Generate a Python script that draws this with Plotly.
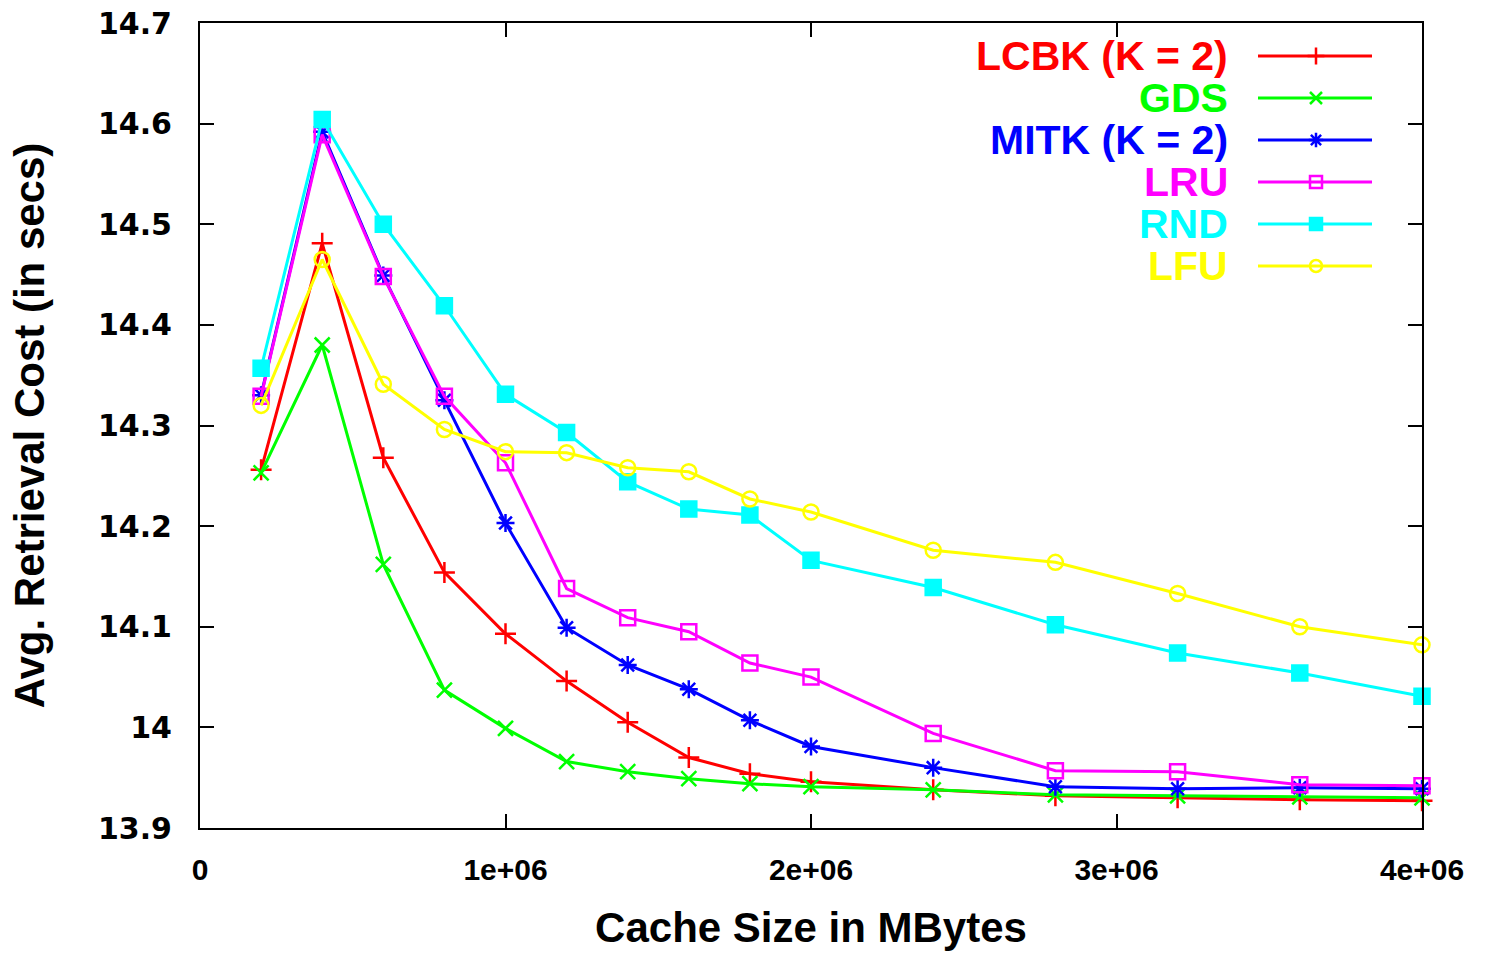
import plotly.graph_objects as go

cache_size = [200000, 400000, 600000, 800000, 1000000, 1200000, 1400000, 1600000,
              1800000, 2000000, 2400000, 2800000, 3200000, 3600000, 4000000]

lcbk = [14.256, 14.481, 14.268, 14.154, 14.093, 14.046, 14.005, 13.970,
        13.954, 13.946, 13.938, 13.932, 13.930, 13.928, 13.927]
gds = [14.253, 14.380, 14.162, 14.037, 13.999, 13.966, 13.956, 13.949,
       13.944, 13.941, 13.938, 13.933, 13.932, 13.931, 13.930]
mitk = [14.330, 14.592, 14.449, 14.325, 14.203, 14.099, 14.062, 14.038,
        14.007, 13.981, 13.960, 13.941, 13.939, 13.940, 13.939]
lru = [14.329, 14.589, 14.448, 14.329, 14.263, 14.138, 14.109, 14.095,
       14.064, 14.050, 13.994, 13.957, 13.956, 13.943, 13.942]
rnd = [14.357, 14.604, 14.500, 14.419, 14.331, 14.293, 14.244, 14.217,
       14.211, 14.166, 14.139, 14.102, 14.074, 14.054, 14.031]
lfu = [14.320, 14.465, 14.341, 14.296, 14.274, 14.273, 14.258, 14.254,
       14.227, 14.214, 14.176, 14.164, 14.133, 14.100, 14.082]

series_names = ["LCBK (K = 2)", "GDS", "MITK (K = 2)", "LRU", "RND", "LFU"]
series_values = [lcbk, gds, mitk, lru, rnd, lfu]
series_colors = ["#ff0000", "#00ff00", "#0000ff", "#ff00ff", "#00ffff", "#ffff00"]
series_symbols = ["cross-thin-open", "x-thin-open", "asterisk-open",
                  "square-open", "square", "circle-open"]

x_tick_vals = [0, 1000000, 2000000, 3000000, 4000000]
x_tick_text = ["0", "1e+06", "2e+06", "3e+06", "4e+06"]
y_tick_vals = [13.9, 14.0, 14.1, 14.2, 14.3, 14.4, 14.5, 14.6, 14.7]
y_tick_text = ["13.9", "14", "14.1", "14.2", "14.3", "14.4", "14.5", "14.6", "14.7"]

# the page body margin is removed below, so the figure fills the window
W, H = 1485, 956
PLOT_X0, PLOT_X1, PLOT_Y0, PLOT_Y1 = 200, 1422, 23, 828  # target pixels
L, T = PLOT_X0, PLOT_Y0
R, B = W - PLOT_X1, H - PLOT_Y1
PW, PH = PLOT_X1 - PLOT_X0, PLOT_Y1 - PLOT_Y0


def px(xs):
    return (xs - PLOT_X0) / PW


def py(ys):
    return (PLOT_Y1 - ys) / PH


fig = go.Figure()

for name, vals, col, sym in zip(series_names, series_values, series_colors, series_symbols):
    fig.add_trace(go.Scatter(
        x=cache_size, y=vals, mode="lines+markers", name=name,
        line=dict(color=col, width=3),
        marker=dict(symbol=sym, size=15, color=col, line=dict(color=col, width=2.5)),
        cliponaxis=False, showlegend=False,
    ))

# custom gnuplot-style key (text on the left, sample on the right)
legend_rows_y = [56, 98, 140, 182, 224, 266]
for name, col, sym, ry in zip(series_names, series_colors, series_symbols, legend_rows_y):
    fig.add_trace(go.Scatter(
        x=[px(1258), px(1372)], y=[py(ry), py(ry)], mode="lines",
        line=dict(color=col, width=3), xaxis="x2", yaxis="y2",
        showlegend=False, hoverinfo="skip", cliponaxis=False,
    ))
    fig.add_trace(go.Scatter(
        x=[px(1316)], y=[py(ry)], mode="markers",
        marker=dict(symbol=sym, size=12, color=col, line=dict(color=col, width=2.5)),
        xaxis="x2", yaxis="y2", showlegend=False, hoverinfo="skip", cliponaxis=False,
    ))
    fig.add_annotation(
        x=px(1230), y=py(ry), xref="paper", yref="paper", text=name,
        showarrow=False, xanchor="right", yanchor="middle",
        font=dict(family="Liberation Sans, Arial, sans-serif", size=41, color=col, weight="bold"),
    )

axis_common = dict(
    showline=True, linecolor="black", linewidth=2, mirror="ticks",
    ticks="inside", ticklen=14, tickwidth=2, tickcolor="black",
    showgrid=False, zeroline=False, automargin=False, ticklabeloverflow="allow",
)

fig.update_layout(
    template="none",
    width=W, height=H,
    margin=dict(l=L, r=R, t=T, b=B, autoexpand=False),
    paper_bgcolor="white", plot_bgcolor="white",
    showlegend=False,
    xaxis=dict(
        range=[0, 4000000], tickvals=x_tick_vals, ticktext=x_tick_text,
        tickfont=dict(family="Liberation Sans Narrow, Liberation Sans, Arial", size=30,
                      color="black", weight="bold"),
        ticklabelstandoff=14,
        title=dict(text="Cache Size in MBytes", standoff=28,
                   font=dict(family="Liberation Sans, Arial", size=42, color="black",
                             weight="bold")),
        **axis_common,
    ),
    yaxis=dict(
        range=[13.9, 14.7], tickvals=y_tick_vals, ticktext=y_tick_text,
        tickfont=dict(family="DejaVu Sans, Liberation Sans, Arial", size=30,
                      color="black", weight="bold"),
        ticklabelstandoff=20,
        title=dict(text="Avg. Retrieval Cost (in secs)", standoff=40,
                   font=dict(family="Liberation Sans, Arial", size=42, color="black",
                             weight="bold")),
        **axis_common,
    ),
    xaxis2=dict(overlaying="x", range=[0, 1], visible=False, fixedrange=True),
    yaxis2=dict(overlaying="y", range=[0, 1], visible=False, fixedrange=True),
)

fig.write_html(
    "out.html",
    config={"displayModeBar": False},
    post_script="document.body.style.margin='0';document.body.style.overflow='hidden';",
)
